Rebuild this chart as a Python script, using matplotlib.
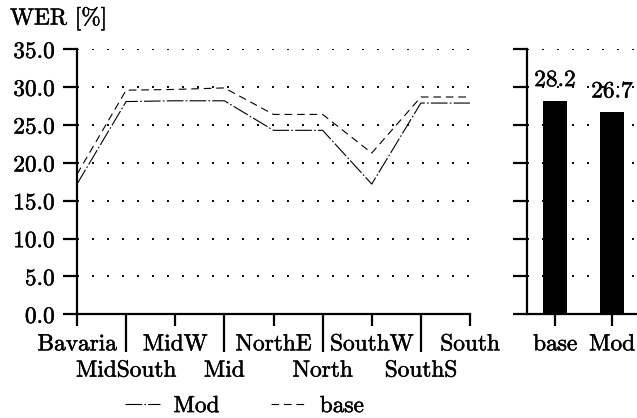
import matplotlib
matplotlib.use("Agg")
import matplotlib.pyplot as plt
import matplotlib.patheffects as pe
from matplotlib.lines import Line2D

plt.rcParams['font.family'] = ['cmr10', 'DejaVu Serif']
plt.rcParams['lines.scale_dashes'] = False
plt.rcParams['axes.unicode_minus'] = False

regions = ["Bavaria", "MidSouth", "MidW", "Mid", "NorthE", "North", "SouthW", "SouthS", "South"]
mod_vals = [17.2, 28.1, 28.2, 28.2, 24.3, 24.3, 17.2, 27.9, 27.9]
base_vals = [18.5, 29.6, 29.7, 29.9, 26.4, 26.4, 21.3, 28.7, 28.7]
avg_labels = ["base", "Mod"]
avg_vals = [28.2, 26.7]
yticks = [0, 5, 10, 15, 20, 25, 30, 35]

FS = 16.8
W, H = 637, 418
fig = plt.figure(figsize=(W / 100, H / 100), dpi=100)
stroke = [pe.withStroke(linewidth=0.35, foreground='black')]

def fx(px):
    return px / W

def fy(py):
    return 1 - py / H

top_px, bot_px = 49.3, 314.3
ax = fig.add_axes([fx(77), fy(bot_px), fx(470) - fx(77), fy(top_px) - fy(bot_px)])
ax2 = fig.add_axes([fx(527), fy(bot_px), fx(640) - fx(527), fy(top_px) - fy(bot_px)])

mod_style = (0, (12, 1.6, 1.2, 1.6))
base_style = (0, (5.5, 3.5))
grid_style = (0, (1.4, 9.4))

for a in (ax, ax2):
    a.set_ylim(0, 35)
    a.set_yticks(yticks)
    for s in ('top', 'right'):
        a.spines[s].set_visible(False)
    for s in ('left', 'bottom'):
        a.spines[s].set_linewidth(1.6)
    a.grid(axis='y', linestyle=grid_style, color='black', linewidth=1.4)
    a.set_axisbelow(True)
    a.tick_params(axis='y', direction='out', length=10, width=1.6, pad=6.0, labelsize=FS)

# left panel: lines
xs = list(range(len(regions)))
ax.plot(xs, mod_vals, color='black', linewidth=0.8, linestyle=mod_style, label='Mod')
ax.plot(xs, base_vals, color='black', linewidth=0.8, linestyle=base_style, label='base')
ax.set_xlim(0, len(regions) - 1)
ax.set_yticklabels(["%.1f" % v for v in yticks])

major = xs[0::2]
minor = xs[1::2]
ax.set_xticks(major)
ax.set_xticklabels([regions[i] for i in major])
ax.set_xticks(minor, minor=True)
ax.set_xticklabels([regions[i] for i in minor], minor=True)
ax.tick_params(axis='x', which='major', direction='out', length=8.6, width=1.6, pad=5.0, labelsize=FS)
ax.tick_params(axis='x', which='minor', direction='out', length=27.5, width=1.6, pad=5.0, labelsize=FS)

# right panel: bars
bx = list(range(len(avg_vals)))
bars = ax2.bar(bx, avg_vals, width=0.42, color='black')
blabels = ax2.bar_label(bars, labels=["%.1f" % v for v in avg_vals], padding=7, fontsize=FS)
ax2.set_xlim(-0.49, 1.49)
ax2.set_xticks(bx)
ax2.set_xticklabels(avg_labels)
ax2.set_yticklabels([])
ax2.tick_params(axis='x', direction='out', length=8.6, width=1.6, pad=5.0, labelsize=FS)

title = fig.text(fx(10), fy(18), "WER [%]", fontsize=FS, va='center', ha='left')

handles = [Line2D([], [], color='black', linewidth=0.8, linestyle=mod_style),
           Line2D([], [], color='black', linewidth=0.8, linestyle=base_style)]
leg = fig.legend(handles, ['Mod', 'base'], loc='center', bbox_to_anchor=(fx(244), fy(406)),
                 ncol=2, frameon=False, fontsize=FS, handlelength=1.5, handletextpad=0.6,
                 columnspacing=2.2, borderpad=0, borderaxespad=0)

texts = [title] + list(blabels) + list(leg.get_texts())
for a in (ax, ax2):
    texts += a.get_xticklabels() + a.get_xticklabels(minor=True) + a.get_yticklabels()
for t in texts:
    t.set_path_effects(stroke)

fig.savefig("out.png", dpi=100)
